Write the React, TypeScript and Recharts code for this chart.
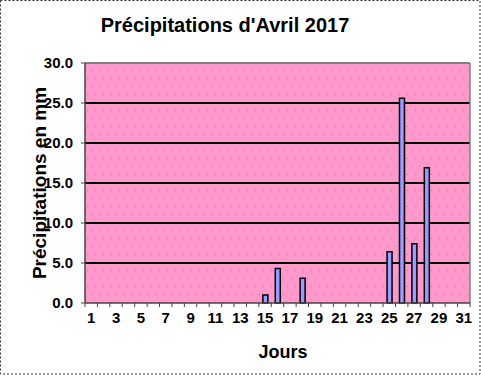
import React from 'react';
import { BarChart, Bar, XAxis, YAxis, CartesianGrid, ReferenceLine } from 'recharts';

const days = Array.from({ length: 31 }, (_, i) => String(i + 1));
const rain = [0, 0, 0, 0, 0, 0, 0, 0, 0, 0, 0, 0, 0, 0, 1.0, 4.3, 0, 3.1, 0, 0, 0, 0, 0, 0, 6.4, 25.6, 7.4, 16.9, 0, 0, 0];
const yTicks = [0, 5, 10, 15, 20, 25, 30];

const data = days.map((d, i) => ({ day: d, idx: i + 1, mm: rain[i] }));

const FONT = 'Arial, "Liberation Sans", sans-serif';
const TICK_GAP = 9;

function DayTick(props: any) {
  const { x, y, payload, visibleTicksCount } = props;
  const half = payload && typeof payload.offset === 'number' ? payload.offset : 0;
  const axisY = y - TICK_GAP;
  const n = Number(payload.value);
  const isLast = payload.index === (visibleTicksCount ?? 31) - 1 || n === days.length;
  return (
    <g>
      <line x1={x - half} x2={x - half} y1={axisY} y2={axisY + 4} stroke="#444" />
      {isLast && <line x1={x + half} x2={x + half} y1={axisY} y2={axisY + 4} stroke="#444" />}
      {n % 2 === 1 && (
        <text x={x} y={y} dy="0.71em" textAnchor="middle" fill="#000" fontSize={15} fontWeight="bold" fontFamily={FONT}>
          {payload.value}
        </text>
      )}
    </g>
  );
}

export default function App() {
  return (
    <div style={{ position: 'absolute', left: 0, top: 0, width: 481, height: 376, background: '#fff' }}>
      <BarChart
        width={481}
        height={376}
        data={data}
        margin={{ top: 63, right: 11, left: 35, bottom: 43 }}
        barCategoryGap={0}
      >
        <defs>
          <pattern id="pinkDots" x="0" y="0" width="8" height="16" patternUnits="userSpaceOnUse">
            <rect x="0" y="0" width="8" height="16" fill="#FF99CC" />
            <rect x="3" y="6" width="1" height="1" fill="#E0609A" />
            <rect x="7" y="14" width="1" height="1" fill="#E0609A" />
          </pattern>
          <pattern id="blueDots" x="0" y="0" width="4" height="4" patternUnits="userSpaceOnUse">
            <rect x="0" y="0" width="4" height="4" fill="#9999FF" />
            <rect x="1" y="1" width="1" height="1" fill="#B8B8FF" />
          </pattern>
        </defs>
        <CartesianGrid
          fill="url(#pinkDots)"
          fillOpacity={1}
          vertical={false}
          horizontalValues={[5, 10, 15, 20, 25]}
          stroke="#000"
          strokeWidth={2}
        />
        <XAxis
          xAxisId="b"
          type="number"
          dataKey="idx"
          domain={[0.5, 31.5]}
          allowDataOverflow
          hide
        />
        <XAxis
          dataKey="day"
          height={30}
          interval={0}
          tickLine={false}
          axisLine={{ stroke: '#444', strokeWidth: 1.5 }}
          tickSize={6}
          tickMargin={3}
          tick={<DayTick />}
        />
        <YAxis
          domain={[0, 30]}
          ticks={yTicks}
          width={50}
          tickSize={4}
          tickMargin={8}
          tickFormatter={(v: number) => v.toFixed(1)}
          tick={{ fill: '#000', fontSize: 15, fontWeight: 'bold', fontFamily: FONT }}
          tickLine={{ stroke: '#444' }}
          axisLine={{ stroke: '#444', strokeWidth: 1.5 }}
        />
        <ReferenceLine y={30} stroke="#808080" strokeWidth={2} />
        <ReferenceLine xAxisId="b" x={31.5} stroke="#808080" strokeWidth={1.5} />
        <Bar dataKey="mm" barSize={5} fill="url(#blueDots)" stroke="#000" strokeWidth={1.5} isAnimationActive={false} />
      </BarChart>
      <svg width={481} height={376} style={{ position: 'absolute', left: 0, top: 0, pointerEvents: 'none' }}>
        <rect x={0.5} y={0.5} width={479.5} height={373.5} fill="none" stroke="#333" strokeDasharray="2 2" />
        <text x={225} y={32} textAnchor="middle" fontFamily={FONT} fontWeight="bold" fontSize={20} fill="#000">
          Précipitations d'Avril 2017
        </text>
        <text
          x={0}
          y={0}
          transform="translate(46,183) rotate(-90)"
          textAnchor="middle"
          fontFamily={FONT}
          fontWeight="bold"
          fontSize={19}
          fill="#000"
        >
          Précipitations en mm
        </text>
        <text x={283} y={358} textAnchor="middle" fontFamily={FONT} fontWeight="bold" fontSize={18} fill="#000">
          Jours
        </text>
      </svg>
    </div>
  );
}
